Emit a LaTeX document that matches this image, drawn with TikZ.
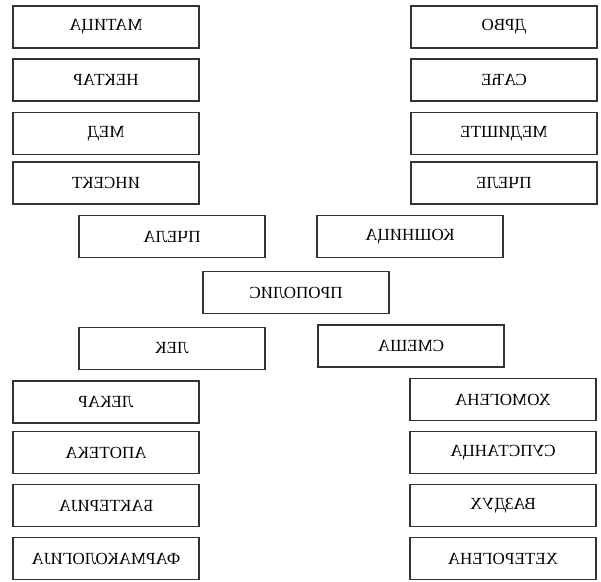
\documentclass[tikz,border=0pt]{standalone}
\usepackage{fontspec}
\setmainfont{Liberation Serif}
\usetikzlibrary{positioning}

\newcommand{\flipped}[1]{\scalebox{-1}[1]{#1}}

\tikzset{
  wordbox/.style={draw=black!80, line width=1.3pt, minimum width=186pt,
    minimum height=42pt, inner sep=0pt, font=\fontsize{17}{19}\selectfont}
}

\begin{document}
\begin{tikzpicture}[x=1pt, y=-1pt]
      \useasboundingbox (0,0) rectangle (601,581);

      % upper columns
      \node[wordbox] (matica)  at (106,27)    {\flipped{МАТИЦА}};
      \node[wordbox] (nektar)  at (106,80)    {\flipped{НЕКТАР}};
      \node[wordbox] (med)     at (106,133.5) {\flipped{МЕД}};
      \node[wordbox] (insekt)  at (106,183)   {\flipped{ИНСЕКТ}};

      \node[wordbox] (drvo)    at (504,27)    {\flipped{ДРВО}};
      \node[wordbox] (sace)    at (504,80)    {\flipped{САЋЕ}};
      \node[wordbox] (mediste) at (504,133.5) {\flipped{МЕДИШТЕ}};
      \node[wordbox] (pcele)   at (504,183)   {\flipped{ПЧЕЛЕ}};

      % middle
      \node[wordbox] (pcela)    at (172,236.5) {\flipped{ПЧЕЛА}};
      \node[wordbox] (kosnica)  at (410,236.5) {\flipped{КОШНИЦА}};
      \node[wordbox] (propolis) at (296,292.5) {\flipped{ПРОПОЛИС}};
      \node[wordbox] (lek)      at (172,348.5) {\flipped{ЛЕК}};
      \node[wordbox] (smesa)    at (411,346)   {\flipped{СМЕША}};

      % lower columns
      \node[wordbox] (lekar)     at (106,402)   {\flipped{ЛЕКАР}};
      \node[wordbox] (apoteka)   at (106,452.5) {\flipped{АПОТЕКА}};
      \node[wordbox] (bakterija) at (106,505.5) {\flipped{БАКТЕРИЈА}};
      \node[wordbox] (farmak)    at (106,558.5) {\flipped{ФАРМАКОЛОГИЈА}};

      \node[wordbox] (homogena)    at (503,399.5) {\flipped{ХОМОГЕНА}};
      \node[wordbox] (supstanca)   at (503,452.5) {\flipped{СУПСТАНЦА}};
      \node[wordbox] (vazduh)      at (503,505.5) {\flipped{ВАЗДУХ}};
      \node[wordbox] (heterogena)  at (503,558.5) {\flipped{ХЕТЕРОГЕНА}};
\end{tikzpicture}
\end{document}
